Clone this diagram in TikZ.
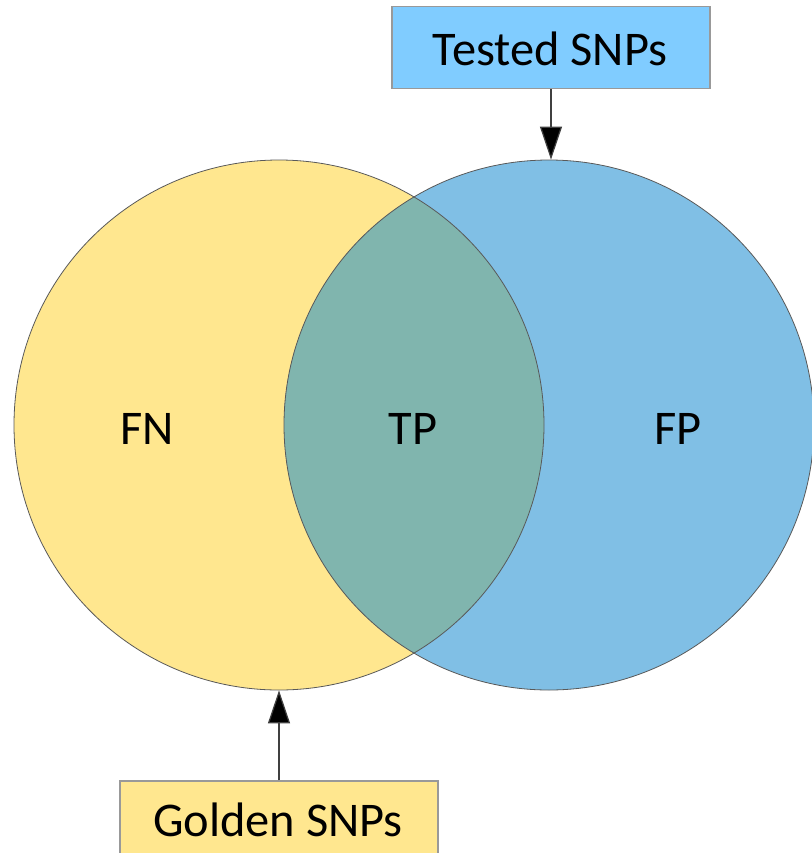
\documentclass[tikz,border=0pt]{standalone}
\usepackage{fontspec}
\setmainfont{Carlito}
\usetikzlibrary{arrows.meta}
\definecolor{yel}{RGB}{255,231,143}
\definecolor{blu}{RGB}{128,191,229}
\definecolor{ovl}{RGB}{128,181,174}
\definecolor{boxblu}{RGB}{128,204,255}
\begin{document}
\begin{tikzpicture}[x=0.5pt,y=-0.5pt,
  lbl/.style={font=\fontsize{24.2}{29}\selectfont, text=black},
  labelbox/.style={draw=black!40, line width=0.6pt, minimum width=159pt, minimum height=41pt, inner sep=0pt, lbl},
  venn/.style={circle, minimum size=265pt, inner sep=0pt},
  arr/.style={draw=black!75, line width=0.6pt, -{Triangle[width=11pt,length=16.5pt,fill=black]}}]
\useasboundingbox (0,0) rectangle (812,853);
\def\R{265}
\fill[yel] (279,425) circle[radius=\R];
\fill[blu] (549,425) circle[radius=\R];
\begin{scope}
  \clip (279,425) circle[radius=\R];
  \fill[ovl] (549,425) circle[radius=\R];
\end{scope}
\node[venn, draw=black!65, line width=0.4pt] (golden) at (279,425) {};
\node[venn, draw=black!65, line width=0.4pt] (tested) at (549,425) {};
\node[lbl] (fn) at (147,429) {FN};
\node[lbl] (tp) at (413,429) {TP};
\node[lbl] (fp) at (678,429) {FP};
\node[labelbox, fill=boxblu] (tbox) at (551,47.5) {};
\node[lbl] (ttext) at (550,49) {Tested SNPs};
\node[labelbox, fill=yel] (gbox) at (279,822) {};
\node[lbl] (gtext) at (278,819.5) {Golden SNPs};
\coordinate (ttip) at (tbox.south |- tested.north);
\draw[arr] (tbox.south) -- (ttip);
\draw[arr] (gbox.north) -- (golden.south);
\end{tikzpicture}
\end{document}
